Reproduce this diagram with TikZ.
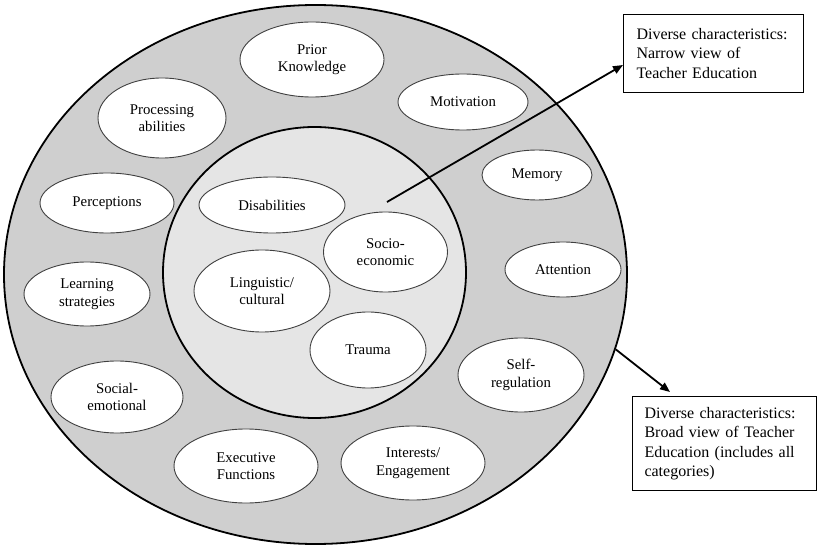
\documentclass[tikz,border=0pt]{standalone}
\usepackage{fontspec}
\setmainfont{Liberation Serif}
\usetikzlibrary{shapes.geometric,arrows.meta}
\begin{document}
\begin{tikzpicture}[x=1pt,y=-1pt,
  ring/.style={ellipse,draw=black,line width=1.8pt,inner sep=0pt},
  trait/.style={ellipse,draw=black!75,line width=0.9pt,fill=white,inner sep=0pt,
    align=center,font=\fontsize{14.8}{17.5}\selectfont},
  viewbox/.style={draw=black,line width=1pt,fill=white,anchor=north west,
    inner ysep=0pt,align=left,font=\fontsize{16}{19.5}\selectfont},
  pointer/.style={line width=1.8pt,-{Triangle[length=10pt,width=8pt]}}]
\useasboundingbox (0,0) rectangle (817,545);

% concentric regions
\node[ring,fill=black!19,minimum width=623pt,minimum height=539pt] (outer) at (315.5,274.5) {};
\node[ring,fill=black!10,minimum width=303pt,minimum height=291pt] (inner) at (314.5,272.5) {};

% broad characteristics (outer ring)
\node[trait,minimum width=144pt,minimum height=75pt] (prior) at (312,59.5) {Prior\\Knowledge};
\node[trait,minimum width=128pt,minimum height=80pt] (proc) at (162,118) {Processing\\abilities};
\node[trait,minimum width=130pt,minimum height=56pt] (motiv) at (463,102) {Motivation};
\node[trait,minimum width=110pt,minimum height=50pt] (memory) at (537,175) {Memory};
\node[trait,minimum width=116pt,minimum height=55pt] (attn) at (563,269.5) {Attention};
\node[trait,minimum width=134pt,minimum height=60pt] (percep) at (107,203) {Perceptions};
\node[trait,minimum width=126pt,minimum height=64pt] (learn) at (87,294) {Learning\\strategies};
\node[trait,minimum width=132pt,minimum height=72pt] (social) at (117,397) {Social-\\emotional};
\node[trait,minimum width=144pt,minimum height=74pt] (exec) at (246,466) {Executive\\Functions};
\node[trait,minimum width=144pt,minimum height=74pt] (interest) at (413,463) {Interests/\\Engagement};
\node[trait,minimum width=126pt,minimum height=74pt] (selfreg) at (521,375) {Self-\\regulation};

% narrow characteristics (inner circle)
\node[trait,minimum width=146pt,minimum height=56pt] (disab) at (272,205) {Disabilities};
\node[trait,minimum width=124pt,minimum height=80pt] (socio) at (385.5,252) {Socio-\\economic};
\node[trait,minimum width=136pt,minimum height=82pt] (ling) at (262,291) {Linguistic/\\cultural};
\node[trait,minimum width=116pt,minimum height=76pt] (trauma) at (368,350) {Trauma};

% explanatory boxes
\node[viewbox,inner xsep=13pt,text width=154pt,minimum height=78pt] (narrow) at (623,14)
  {Diverse characteristics:\\Narrow view of\\Teacher Education};
\node[viewbox,inner xsep=12pt,text width=160pt,minimum height=94pt] (broad) at (632,396)
  {Diverse characteristics:\\Broad view of Teacher\\Education (includes all\\categories)};

% pointers
\coordinate (narrowfrom) at (387,202);
\coordinate (narrowto) at (623,65);
\coordinate (broadto) at (670,392);
\draw[pointer] (narrowfrom) -- (narrowto);
\draw[pointer] (outer.-14.7) -- (broadto);
\end{tikzpicture}
\end{document}
